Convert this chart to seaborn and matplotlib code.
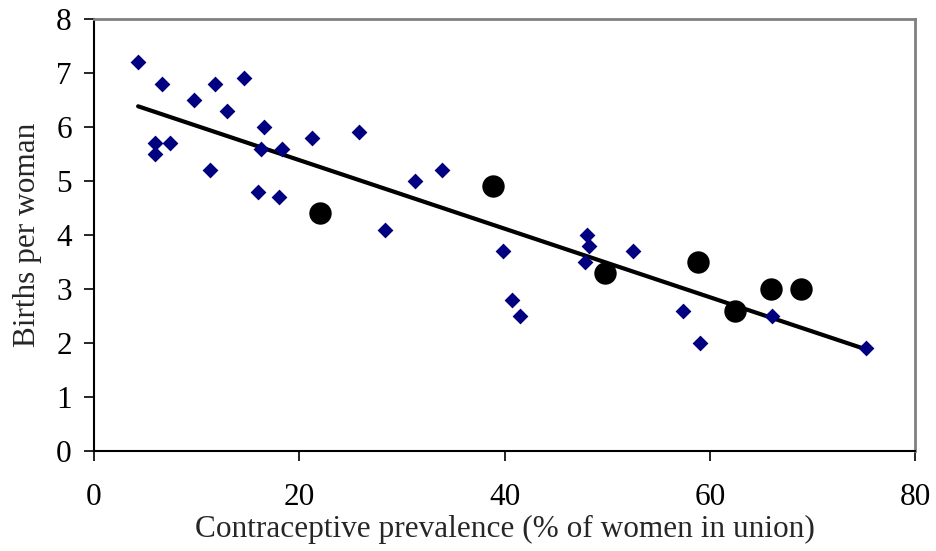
import numpy as np
import pandas as pd
import matplotlib
matplotlib.use("Agg")
import matplotlib.pyplot as plt
import seaborn as sns

# Diamond series (countries)
dia_x = [4.3, 6.6, 5.9, 5.9, 7.4, 9.7, 11.8, 13.0, 11.3, 14.6, 16.6, 16.3, 16.0, 18.3,
         18.0, 21.2, 25.8, 28.4, 31.3, 33.9, 39.9, 40.7, 41.5, 48.0, 48.2, 47.8, 52.5,
         57.4, 59.0, 66.1, 75.2]
dia_y = [7.2, 6.8, 5.7, 5.5, 5.7, 6.5, 6.8, 6.3, 5.2, 6.9, 6.0, 5.6, 4.8, 5.6,
         4.7, 5.8, 5.9, 4.1, 5.0, 5.2, 3.7, 2.8, 2.5, 4.0, 3.8, 3.5, 3.7,
         2.6, 2.0, 2.5, 1.9]
# Highlighted series (circles)
cir_x = [22.0, 38.9, 49.8, 58.9, 62.5, 66.0, 68.9]
cir_y = [4.4, 4.9, 3.3, 3.5, 2.6, 3.0, 3.0]

x_ticks = [0, 20, 40, 60, 80]
y_ticks = [0, 1, 2, 3, 4, 5, 6, 7, 8]

sns.set_style("white")
plt.rcParams['font.family'] = ['Liberation Serif', 'DejaVu Serif']

fig = plt.figure(figsize=(9.36, 5.51), dpi=100)
ax = fig.add_axes([0.1004, 0.1815, 0.8772, 0.784])

df_d = pd.DataFrame({"x": dia_x, "y": dia_y})
df_c = pd.DataFrame({"x": cir_x, "y": cir_y})
df_all = pd.concat([df_d, df_c], ignore_index=True)

sns.regplot(data=df_all, x="x", y="y", scatter=False, ci=None, truncate=True,
            color="black", line_kws={"linewidth": 3, "solid_capstyle": "round", "zorder": 2}, ax=ax)
sns.scatterplot(data=df_d, x="x", y="y", marker="D", s=65, color="#000080",
                edgecolor="#000080", linewidth=0, ax=ax, zorder=3)
sns.scatterplot(data=df_c, x="x", y="y", marker="o", s=260, color="black",
                edgecolor="black", linewidth=0, ax=ax, zorder=4)

ax.set_xlim(0, 80)
ax.set_ylim(0, 8)
ax.set_xticks(x_ticks)
ax.set_yticks(y_ticks)
ax.tick_params(axis="both", labelsize=22.5, length=7, width=1.2, direction="out",
               colors="black", bottom=True, left=True)
ax.tick_params(axis="x", pad=16)
ax.tick_params(axis="y", pad=9)
ax.set_xlabel("Contraceptive prevalence (% of women in union)", fontsize=22.5, labelpad=2)
ax.set_ylabel("Births per woman", fontsize=22.5, labelpad=10)

for side in ["left", "bottom"]:
    ax.spines[side].set_color("black")
    ax.spines[side].set_linewidth(1.5)
for side in ["top", "right"]:
    ax.spines[side].set_color("#808080")
    ax.spines[side].set_linewidth(2)

fig.savefig("out.png", dpi=100)
